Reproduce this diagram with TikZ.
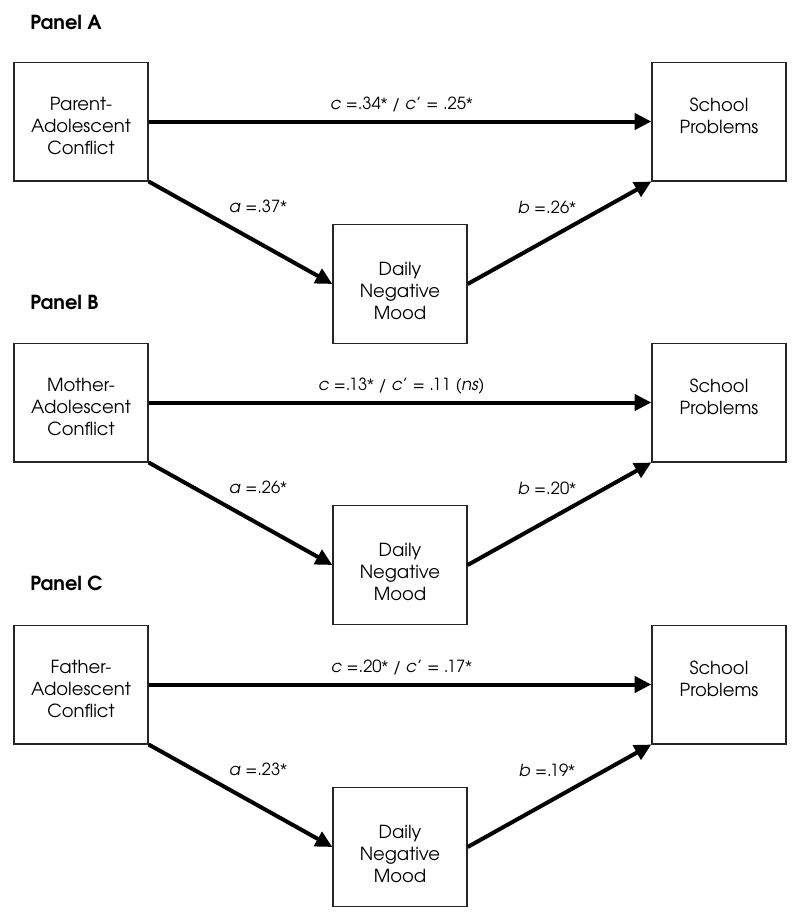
\documentclass[tikz,border=0pt]{standalone}
\usepackage{fontspec}
\setmainfont{TeX Gyre Adventor}
\newfontfamily\astfont{Liberation Sans}
\usetikzlibrary{arrows.meta}
\newcommand\st{{\astfont *}}
\newcommand\btext[2]{\raisebox{#1}[\height][\depth]{\begin{tabular}{@{}c@{}}#2\end{tabular}}}
\begin{document}
\begin{tikzpicture}[x=0.75pt,y=-0.75pt,
  box/.style={draw=black!85,line width=1pt,minimum width=100.5pt,minimum height=89pt,
    inner sep=0pt,font=\fontsize{13.5}{16.5}\selectfont},
  arr/.style={line width=3pt,-{Triangle[length=12.5pt,width=12pt]}},
  coef/.style={font=\fontsize{12.5}{15}\selectfont,inner sep=0pt,anchor=base},
  panel/.style={font=\bfseries\fontsize{14.5}{17}\selectfont,anchor=base west,inner sep=0pt}]
\useasboundingbox (0,0) rectangle (800,922);
% Panel A
\node[panel] (tA) at (30,29) {Panel A};
\node[box] (xA) at (81,121.5) {\btext{-5.3pt}{Parent-\\Adolescent\\Conflict}};
\node[box] (yA) at (719,121.5) {\btext{2.2pt}{School\\Problems}};
\node[box] (mA) at (400,284) {\btext{-6.5pt}{Daily\\Negative\\Mood}};
\draw[arr] (xA.east) -- (yA.west);
\draw[arr] (xA.south east) -- (mA.west);
\draw[arr] (mA.east) -- (yA.south west);
\node[coef] (cA) at (401.5,109) {\textit{c} =.34\st{} / \textit{c}’ = .25\st};
\node[coef] (aA) at (258,212) {\textit{a} =.37\st};
\node[coef] (bA) at (547,213) {\textit{b} =.26\st};
% Panel B
\node[panel] (tB) at (30,309) {Panel B};
\node[box] (xB) at (81,402.5) {\btext{-5.3pt}{Mother-\\Adolescent\\Conflict}};
\node[box] (yB) at (719,402.5) {\btext{2.2pt}{School\\Problems}};
\node[box] (mB) at (400,565) {\btext{-6.5pt}{Daily\\Negative\\Mood}};
\draw[arr] (xB.east) -- (yB.west);
\draw[arr] (xB.south east) -- (mB.west);
\draw[arr] (mB.east) -- (yB.south west);
\node[coef] (cB) at (401.5,390) {\textit{c} =.13\st{} / \textit{c}’ = .11 (\textit{ns})};
\node[coef] (aB) at (258,493) {\textit{a} =.26\st};
\node[coef] (bB) at (547,494) {\textit{b} =.20\st};
% Panel C
\node[panel] (tC) at (30,590) {Panel C};
\node[box] (xC) at (81,684.5) {\btext{-5.3pt}{Father-\\Adolescent\\Conflict}};
\node[box] (yC) at (719,684.5) {\btext{2.2pt}{School\\Problems}};
\node[box] (mC) at (400,847) {\btext{-6.5pt}{Daily\\Negative\\Mood}};
\draw[arr] (xC.east) -- (yC.west);
\draw[arr] (xC.south east) -- (mC.west);
\draw[arr] (mC.east) -- (yC.south west);
\node[coef] (cC) at (401.5,672) {\textit{c} =.20\st{} / \textit{c}’ = .17\st};
\node[coef] (aC) at (258,775) {\textit{a} =.23\st};
\node[coef] (bC) at (547,776) {\textit{b} =.19\st};
\end{tikzpicture}
\end{document}
